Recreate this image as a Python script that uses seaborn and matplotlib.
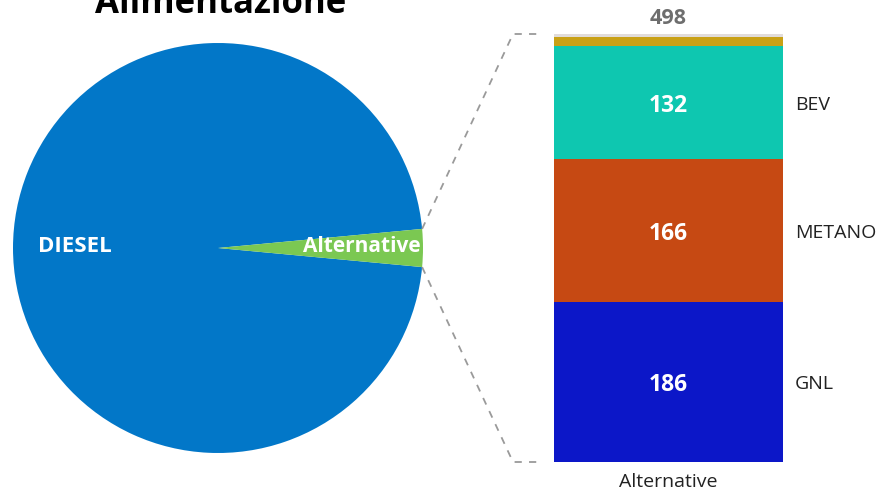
import matplotlib
matplotlib.use("Agg")
import matplotlib.pyplot as plt
from matplotlib.lines import Line2D
import seaborn as sns
import numpy as np

# data
pie_labels = ["DIESEL", "Alternative"]
pie_values = [16300, 498]
pie_colors = ["#0277C8", "#7BC852"]

bar_category = "Alternative"
segments = ["GNL", "METANO", "BEV", "ALTRO", "IBRIDO"]
segment_values = [186, 166, 132, 11, 3]
segment_colors = ["#0C17C8", "#C64913", "#0EC7B0", "#C9A116", "#E1DCDA"]
labelled = ["GNL", "METANO", "BEV"]

sns.set_theme(style="white")
plt.rcParams["font.family"] = ["Open Sans", "DejaVu Sans"]

W, H = 881, 494
fig = plt.figure(figsize=(W / 100, H / 100), dpi=100)


def px_box(x0, y0, x1, y1):
    # pixel box (top-left origin) -> figure fraction rect
    return [x0 / W, 1 - y1 / H, (x1 - x0) / W, (y1 - y0) / H]


# pie
ax_pie = fig.add_axes(px_box(13, 43, 423, 453))
alt_frac = pie_values[1] / sum(pie_values)
start = alt_frac * 360 / 2  # Alternative wedge centred on 0 deg
wedges, _ = ax_pie.pie(pie_values, colors=pie_colors, startangle=start,
                       counterclock=True, radius=1.0,
                       wedgeprops=dict(linewidth=0))
ax_pie.set_xlim(-1, 1)
ax_pie.set_ylim(-1, 1)
ax_pie.set_aspect("equal")
ax_pie.axis("off")
ax_pie.text(-0.70, 0.02, pie_labels[0], color="white", fontsize=16,
            fontweight="bold", ha="center", va="center_baseline")
ax_pie.text(0.70, 0.02, pie_labels[1], color="white", fontsize=15,
            fontweight="bold", ha="center", va="center_baseline")

fig.text(221 / W, 1 - 13 / H, "Alimentazione", fontsize=25, fontweight="bold",
         ha="center", va="baseline", color="black")

# stacked bar
ax_bar = fig.add_axes(px_box(554, 34, 783, 462))
cum = np.cumsum(segment_values)
for i in range(len(segments) - 1, -1, -1):
    sns.barplot(x=[bar_category], y=[cum[i]], color=segment_colors[i],
                width=1.0, saturation=1, ax=ax_bar, linewidth=0)
ax_bar.set_xlim(-0.5, 0.5)
ax_bar.set_ylim(0, sum(segment_values))
for s in ax_bar.spines.values():
    s.set_visible(False)
ax_bar.set_yticks([])
ax_bar.set_xlabel("")
ax_bar.set_ylabel("")
ax_bar.tick_params(axis="x", length=0, labelsize=14, pad=8, colors="#222222")

bottoms = cum - np.array(segment_values)
for name, val, b in zip(segments, segment_values, bottoms):
    if name in labelled:
        mid = b + val / 2
        ax_bar.text(0, mid, str(val), color="white", fontsize=16.5,
                    fontweight="bold", ha="center", va="center_baseline")
        ax_bar.text(0.553, mid, name, color="#222222", fontsize=14,
                    ha="left", va="center_baseline")
ax_bar.text(0, sum(segment_values) + 6, str(sum(segment_values)), color="#6E6E6E",
            fontsize=15.5, fontweight="bold", ha="center", va="bottom",
            clip_on=False)

# connector lines from the Alternative wedge to the bar
wedge = wedges[1]
fig.canvas.draw()
to_fig = fig.transFigure.inverted()
pts = []
for ang in (wedge.theta2, wedge.theta1):
    xy = (np.cos(np.radians(ang)), np.sin(np.radians(ang)))
    pts.append(to_fig.transform(ax_pie.transData.transform(xy)))
corner_x = 513 / W
for (px, py), yy in zip(pts, (34, 462)):
    cy = 1 - yy / H
    fig.add_artist(Line2D([px, corner_x, 540 / W], [py, cy, cy],
                          transform=fig.transFigure, color="#9A9A9A",
                          linestyle=(0, (4, 4)), linewidth=1.3))

fig.savefig("out.png", dpi=100)
